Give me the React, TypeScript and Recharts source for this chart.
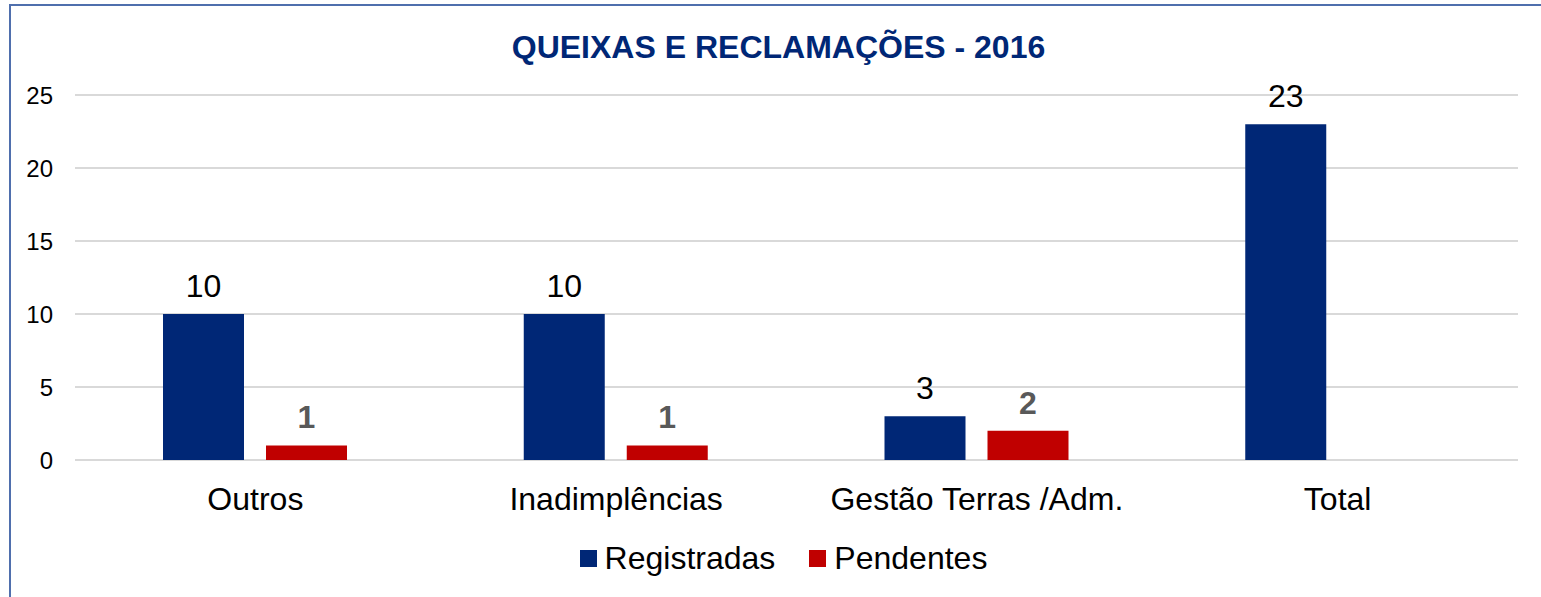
import { BarChart, Bar, XAxis, YAxis, CartesianGrid, LabelList } from "recharts";

const categories = ["Outros", "Inadimplências", "Gestão Terras /Adm.", "Total"];
const registradas = [10, 10, 3, 23];
const pendentes: (number | null)[] = [1, 1, 2, null];
const yTicks = [0, 5, 10, 15, 20, 25];

const NAVY = "#002776";
const RED = "#c00000";
const FONT = "'Liberation Sans', Arial, sans-serif";

const data = categories.map((name, i) => ({
  name,
  registradas: registradas[i],
  pendentes: pendentes[i],
}));

function LegendBox() {
  const items = [
    { label: "Registradas", color: NAVY },
    { label: "Pendentes", color: RED },
  ];
  return (
    <div style={{ display: "flex", justifyContent: "center", alignItems: "center", gap: 34 }}>
      {items.map((it) => (
        <div key={it.label} style={{ display: "flex", alignItems: "center" }}>
          <span style={{ width: 17, height: 17, background: it.color, display: "inline-block", marginRight: 8 }} />
          <span style={{ fontSize: 32, fontFamily: FONT, color: "#000", lineHeight: "34px" }}>{it.label}</span>
        </div>
      ))}
    </div>
  );
}

export default function App() {
  return (
    <div style={{ position: "absolute", left: 0, top: 0, width: 1541, height: 597, overflow: "hidden", background: "#fff" }}>
      <div
        style={{
          position: "absolute",
          left: 9,
          top: 4,
          width: 1600,
          height: 700,
          border: "2px solid #4f6fad",
        }}
      />
      <div
        style={{
          position: "absolute",
          left: 0,
          top: 29,
          width: 1557,
          textAlign: "center",
          fontFamily: FONT,
          fontWeight: "bold",
          fontSize: 32,
          color: NAVY,
          lineHeight: "36px",
        }}
      >
        QUEIXAS E RECLAMAÇÕES - 2016
      </div>
      <div style={{ position: "absolute", left: 0, top: 0 }}>
        <BarChart
          width={1541}
          height={597}
          data={data}
          margin={{ top: 95, right: 23, bottom: 107, left: 25 }}
          barGap={22}
          barSize={81}
        >
          <CartesianGrid vertical={false} stroke="#d9d9d9" strokeWidth={2} />
          <XAxis
            dataKey="name"
            height={30}
            axisLine={false}
            tickLine={false}
            tickSize={0}
            tickMargin={27}
            interval={0}
            tick={{ fontSize: 32, fontFamily: FONT, fill: "#000" }}
          />
          <YAxis
            width={50}
            domain={[0, 25]}
            ticks={yTicks}
            axisLine={false}
            tickLine={false}
            tickSize={0}
            tickMargin={22}
            tick={{ fontSize: 24, fontFamily: FONT, fill: "#000" }}
          />
          <Bar dataKey="registradas" name="Registradas" fill={NAVY} isAnimationActive={false}>
            <LabelList
              dataKey="registradas"
              position="top"
              offset={17}
              style={{ fontSize: 32, fontFamily: FONT, fill: "#000" }}
            />
          </Bar>
          <Bar dataKey="pendentes" name="Pendentes" fill={RED} isAnimationActive={false}>
            <LabelList
              dataKey="pendentes"
              position="top"
              offset={17}
              style={{ fontSize: 32, fontFamily: FONT, fill: "#595959", fontWeight: "bold" }}
            />
          </Bar>
        </BarChart>
      </div>
      <div style={{ position: "absolute", left: 0, top: 541, width: 1567 }}>
        <LegendBox />
      </div>
    </div>
  );
}
